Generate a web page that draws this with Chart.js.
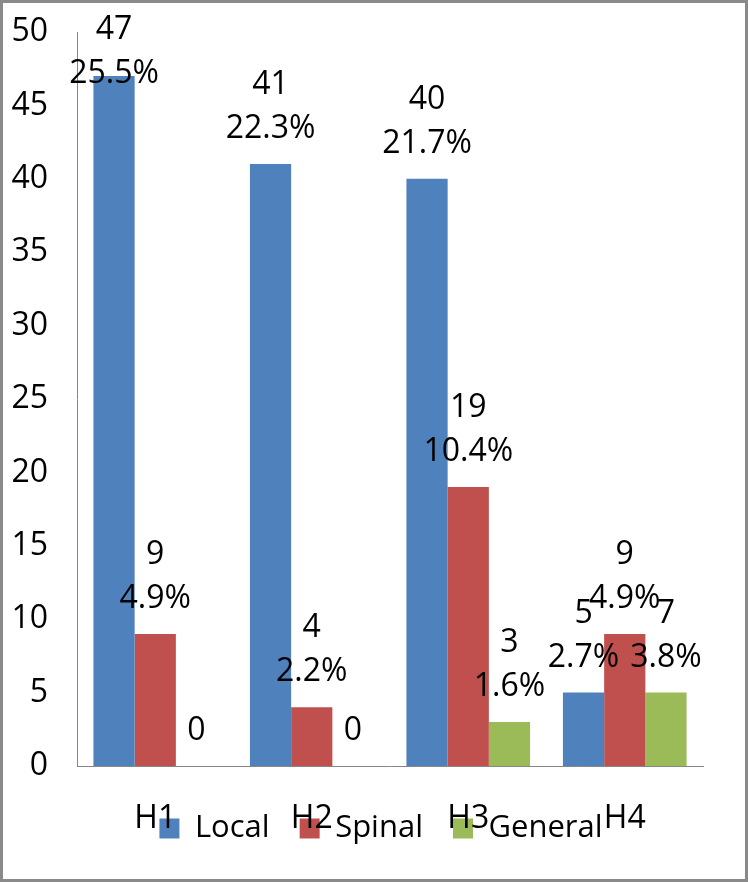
<!DOCTYPE html>
<html>
<head>
<meta charset="utf-8">
<script src="https://cdn.jsdelivr.net/npm/chart.js@4.4.1/dist/chart.umd.min.js"></script>
<style>
    html, body { margin: 0; padding: 0; background: #fff; }
    #frame {
        width: 748px;
        height: 882px;
        box-sizing: border-box;
        border: 3px solid #8a8a8a;
        background: #fff;
    }
    #chartBox { width: 742px; height: 876px; position: relative; }
</style>
</head>
<body>
<div id="frame">
    <div id="chartBox"><canvas id="anesthesiaChart"></canvas></div>
</div>
<script>
const categories = ["H1", "H2", "H3", "H4"];

const localValues = [47, 41, 40, 5];
const spinalValues = [9, 4, 19, 9];
const generalValues = [0, 0, 3, 5];

// label text as printed on the chart
const localCounts = ["47", "41", "40", "5"];
const spinalCounts = ["9", "4", "19", "9"];
const generalCounts = ["0", "0", "3", "7"];

const localPercents = ["25.5%", "22.3%", "21.7%", "2.7%"];
const spinalPercents = ["4.9%", "2.2%", "10.4%", "4.9%"];
const generalPercents = ["", "", "1.6%", "3.8%"];

const yTicks = [0, 5, 10, 15, 20, 25, 30, 35, 40, 45, 50];

const labelFont = "32px 'Open Sans'";

const barLabels = {
    id: "barLabels",
    afterDatasetsDraw(chart) {
        const ctx = chart.ctx;
        const counts = [localCounts, spinalCounts, generalCounts];
        const percents = [localPercents, spinalPercents, generalPercents];
        ctx.save();
        ctx.font = labelFont;
        ctx.fillStyle = "#000";
        ctx.textAlign = "center";
        ctx.textBaseline = "middle";
        chart.data.datasets.forEach((ds, i) => {
            const meta = chart.getDatasetMeta(i);
            meta.data.forEach((bar, j) => {
                const pct = percents[i][j];
                if (!pct) {
                    ctx.fillText(counts[i][j], bar.x, bar.y - 35);
                    return;
                }
                let second = bar.y - 35;
                let first = second - 44;
                if (first < 27) {
                    const shift = 27 - first;
                    first += shift;
                    second += shift;
                }
                ctx.fillText(counts[i][j], bar.x, first);
                ctx.fillText(pct, bar.x, second);
            });
        });
        ctx.restore();
    }
};

// Excel draws the legend over the category labels, so pull it up
const legendNudge = {
    id: "legendNudge",
    afterLayout(chart) {
        const lg = chart.legend;
        const dy = chart.chartArea.bottom + 17 - lg.top;
        lg.top += dy;
        lg.bottom += dy;
        lg.left += 28;
        lg.right += 28;
    }
};

Chart.defaults.font.family = "'Open Sans'";
Chart.defaults.color = "#000";

new Chart(document.getElementById("anesthesiaChart"), {
    type: "bar",
    data: {
        labels: categories,
        datasets: [
            { label: "Local", data: localValues, backgroundColor: "#4F81BD", borderWidth: 0 },
            { label: "Spinal", data: spinalValues, backgroundColor: "#C0504D", borderWidth: 0 },
            { label: "General", data: generalValues, backgroundColor: "#9BBB59", borderWidth: 0 }
        ]
    },
    options: {
        responsive: true,
        maintainAspectRatio: false,
        animation: false,
        events: [],
        categoryPercentage: 0.79,
        barPercentage: 1,
        layout: {
            padding: { left: 0, right: 42, top: 29, bottom: -32 }
        },
        plugins: {
            tooltip: { enabled: false },
            legend: {
                position: "bottom",
                labels: {
                    font: { size: 31 },
                    color: "#000",
                    boxWidth: 20,
                    boxHeight: 20,
                    padding: 30
                }
            }
        },
        scales: {
            x: {
                grid: { display: false, drawTicks: false },
                border: { display: true, color: "#868686", width: 1 },
                ticks: { font: { size: 32 }, color: "#000", padding: 34 },
                afterFit(scale) { scale.height = 74; }
            },
            y: {
                min: 0,
                max: 50,
                // tick marks are hidden; tickLength only spaces the labels off the axis
                grid: { display: false, drawTicks: true, tickLength: 27 },
                border: { display: true, color: "#868686", width: 1 },
                afterBuildTicks(scale) { scale.ticks = yTicks.map(v => ({ value: v })); },
                ticks: { font: { size: 32 }, color: "#000", padding: 2 },
                afterFit(scale) { scale.width = 74; }
            }
        }
    },
    plugins: [barLabels, legendNudge]
});
</script>
</body>
</html>
